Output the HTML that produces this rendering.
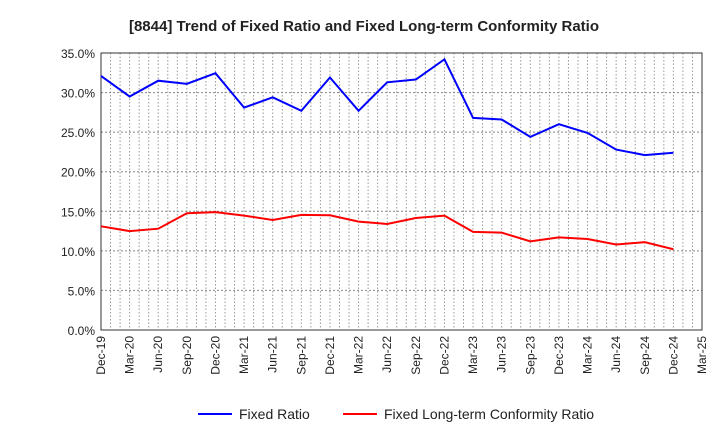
<!DOCTYPE html>
<html><head><meta charset="utf-8"><style>
body{margin:0;background:#fff;font-family:"Liberation Sans",sans-serif}
</style></head><body>
<svg id="chart" width="720" height="440" xmlns="http://www.w3.org/2000/svg">
<text x="364" y="31" text-anchor="middle" font-size="15" font-weight="bold" fill="#222">[8844]  Trend of Fixed Ratio and Fixed Long-term Conformity Ratio</text>
<g id="grid"></g><g id="axes"></g><g id="series"></g>
<g>
<line x1="198" y1="414" x2="232" y2="414" stroke="#0000ff" stroke-width="2"/>
<text x="239" y="419" font-size="14" fill="#222">Fixed Ratio</text>
<line x1="343" y1="414" x2="377" y2="414" stroke="#ff0000" stroke-width="2"/>
<text x="384" y="419" font-size="14" fill="#222">Fixed Long-term Conformity Ratio</text>
</g>
</svg>
<script>
const categories=["Dec-19","Mar-20","Jun-20","Sep-20","Dec-20","Mar-21","Jun-21","Sep-21","Dec-21","Mar-22","Jun-22","Sep-22","Dec-22","Mar-23","Jun-23","Sep-23","Dec-23","Mar-24","Jun-24","Sep-24","Dec-24","Mar-25"];
const fixedRatio=[32.1,29.5,31.5,31.1,32.45,28.1,29.4,27.7,31.9,27.7,31.3,31.65,34.2,26.8,26.6,24.4,26.0,24.9,22.8,22.1,22.4];
const conformityRatio=[13.1,12.5,12.8,14.75,14.9,14.45,13.9,14.55,14.5,13.7,13.4,14.15,14.45,12.4,12.3,11.2,11.7,11.5,10.8,11.1,10.2];
const yTicks=[0,5,10,15,20,25,30,35];
const NS="http://www.w3.org/2000/svg";
const L=101,R=702,T=53,B=330,yMax=35;
const xs=i=>L+i*(R-L)/(categories.length-1);
const ys=v=>B-(v/yMax)*(B-T);
function mk(tag,attrs,parent){const e=document.createElementNS(NS,tag);for(const k in attrs)e.setAttribute(k,attrs[k]);parent.appendChild(e);return e;}
const grid=document.getElementById('grid'),axes=document.getElementById('axes'),series=document.getElementById('series');
const nMinor=(categories.length-1)*3;
for(let j=1;j<nMinor;j++){const x=L+j*(R-L)/nMinor;
const g=mk('line',{x1:x,x2:x,y1:T,y2:B,stroke:'#999','stroke-dasharray':'1.5,2','stroke-width':1},grid);

}
yTicks.forEach(v=>{const y=ys(v);
if(v>0&&v<yMax){const g=mk('line',{x1:L,x2:R,y1:y,y2:y,stroke:'#888','stroke-dasharray':'2,2','stroke-width':1},grid);

}
const t=mk('text',{x:L-6,y:y+5,'text-anchor':'end','font-size':12,fill:'#222'},axes);t.textContent=v.toFixed(1)+'%';

});
categories.forEach((c,i)=>{const x=xs(i);
const t=mk('text',{x:0,y:0,'text-anchor':'end','font-size':12,fill:'#222',transform:`translate(${x+4},${B+6}) rotate(-90)`},axes);t.textContent=c;

});
const fr=mk('rect',{x:L,y:T,width:R-L,height:B-T,fill:'none',stroke:'#333','stroke-width':1},axes);


function line(vals,color,name){const p=mk('polyline',{points:vals.map((v,i)=>xs(i)+','+ys(v)).join(' '),fill:'none',stroke:color,'stroke-width':2},series);

}
line(fixedRatio,'#0000ff','fixed-ratio-line');
line(conformityRatio,'#ff0000','conformity-ratio-line');
</script>
</body></html>
